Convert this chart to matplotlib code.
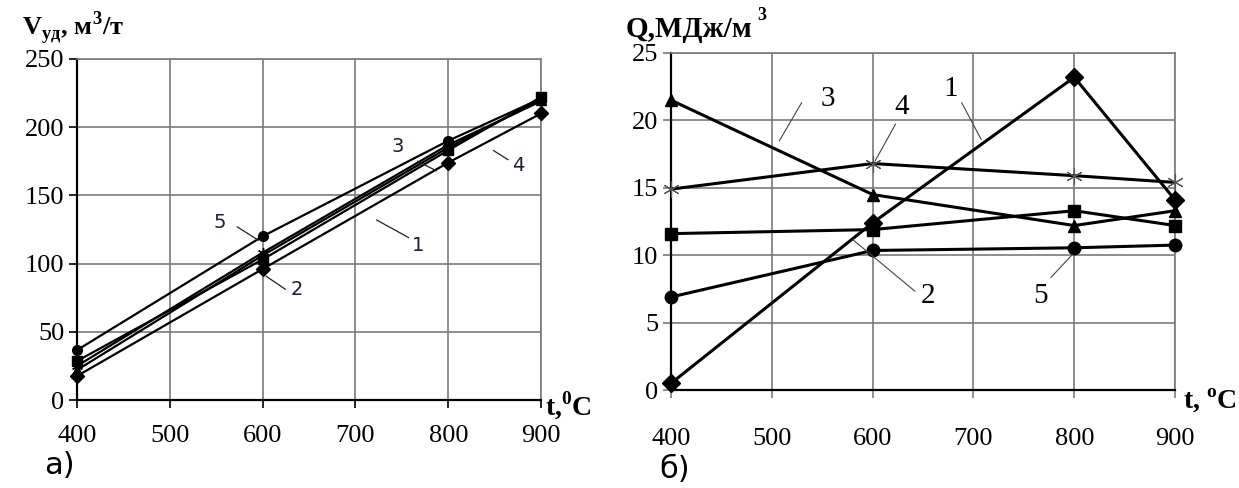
import matplotlib
matplotlib.use("Agg")

import matplotlib.pyplot as plt

# =========================
# DATA
# =========================

temps = [400, 600, 800, 900]

# а) specific gas yield, m3/t
v_1 = [17.6, 96, 174, 210]
v_2 = [28.6, 103, 183, 222]
v_3 = [22, 106, 185, 220]
v_4 = [25, 108, 187, 219]
v_5 = [36.6, 120, 190, 221]

# б) heating value, MJ/m3
q_1 = [0.5, 12.4, 23.2, 14.1]
q_2 = [11.6, 11.9, 13.3, 12.2]
q_3 = [21.5, 14.5, 12.2, 13.3]
q_4 = [14.9, 16.8, 15.9, 15.4]
q_5 = [6.9, 10.35, 10.55, 10.75]

x_ticks = [400, 500, 600, 700, 800, 900]
v_ticks = [0, 50, 100, 150, 200, 250]
q_ticks = [0, 5, 10, 15, 20, 25]

series_labels = ["1", "2", "3", "4", "5"]

# =========================
# STYLE
# =========================

plt.rcParams["font.family"] = ["Liberation Serif", "DejaVu Serif"]
plt.rcParams["mathtext.fontset"] = "custom"
plt.rcParams["mathtext.rm"] = "Liberation Serif"
plt.rcParams["mathtext.bf"] = "Liberation Serif:bold"

markers = ["D", "s", "^", (6, 2, 0), "o"]
grid_color = "#7a7a7a"

fig = plt.figure(figsize=(12.39, 4.88), dpi=100)

ax_v = fig.add_axes([0.0622, 0.1803, 0.3745, 0.699])
ax_q = fig.add_axes([0.5416, 0.2008, 0.4068, 0.6906])


def style_axes(ax, y_ticks, x_pad, tick_color):
    ax.set_xlim(400, 900)
    ax.set_ylim(y_ticks[0], y_ticks[-1])
    ax.set_xticks(x_ticks)
    ax.set_yticks(y_ticks)
    ax.grid(True, color=grid_color, lw=1.2)
    ax.set_axisbelow(True)
    for side in ["top", "right"]:
        ax.spines[side].set_color(grid_color)
        ax.spines[side].set_linewidth(1.2)
    for side in ["left", "bottom"]:
        ax.spines[side].set_color("black")
        ax.spines[side].set_linewidth(1.6)
    ax.tick_params(axis="x", length=6, width=1.2, color=tick_color,
                   pad=x_pad, labelsize=19)
    ax.tick_params(axis="y", length=6, width=1.2, color=tick_color,
                   pad=3, labelsize=19)


# =========================
# LEFT PANEL
# =========================

v_series = [v_1, v_2, v_3, v_4, v_5]

for vals, m in zip(v_series, markers):
    ax_v.plot(temps, vals, color="black", lw=1.6, marker=m,
              markersize=7 if m != (6, 2, 0) else 8,
              markeredgewidth=1.0, clip_on=False, zorder=3)

style_axes(ax_v, v_ticks, 12, "black")

# label text position, leader start, leader end
v_notes = [
    ((767, 113), (760, 118), (720, 133)),
    ((637, 81), (627, 80), (601, 92)),
    ((745, 186), (764, 176), (790, 167)),
    ((875, 172), (867, 175), (846, 184)),
    ((554, 130), (570, 128), (598, 116)),
]

for lab, (txt, p0, p1) in zip(series_labels, v_notes):
    ax_v.annotate("", xy=p1, xytext=p0,
                  arrowprops=dict(arrowstyle="-", lw=0.9, color="#222222"))
    ax_v.text(txt[0], txt[1], lab, fontsize=14, family="DejaVu Sans",
              color="#1c1c3a", ha="center", va="center")

# =========================
# RIGHT PANEL
# =========================

q_series = [q_1, q_2, q_3, q_4, q_5]

for vals, m in zip(q_series, markers):
    if m == (6, 2, 0):
        ax_q.plot(temps, vals, color="black", lw=2.2, zorder=3,
                  clip_on=False)
        ax_q.plot(temps, vals, ls="none", marker=m, markersize=12,
                  markeredgewidth=0.8, color="#555555", zorder=4,
                  clip_on=False)
    else:
        ax_q.plot(temps, vals, color="black", lw=2.2, marker=m,
                  markersize=9, clip_on=False, zorder=3)

style_axes(ax_q, q_ticks, 21, grid_color)

q_notes = [
    ((677, 22.3), (687, 21.5), (709, 18.4)),
    ((655, 7.0), (644, 7.2), (578, 11.3)),
    ((556, 21.6), (531, 21.5), (506, 18.3)),
    ((629, 21.0), (624, 19.9), (601, 16.8)),
    ((767, 7.0), (775, 8.2), (800, 10.2)),
]

for lab, (txt, p0, p1) in zip(series_labels, q_notes):
    ax_q.annotate("", xy=p1, xytext=p0,
                  arrowprops=dict(arrowstyle="-", lw=0.8, color="#444444"))
    ax_q.text(txt[0], txt[1], lab, fontsize=21, color="black",
              ha="center", va="center")

# =========================
# AXIS TITLES
# =========================

fig.text(0.018, 0.928, r"$\mathbf{V}_{\mathbf{уд}}$, м$^{\mathbf{3}}$/т",
         fontsize=19, fontweight="bold", ha="left", va="baseline")
fig.text(0.440, 0.150, r"t,$^{\mathbf{0}}$C",
         fontsize=20, fontweight="bold", ha="left", va="baseline")
fig.text(0.036, 0.028, "а)", fontsize=22, family="DejaVu Sans",
         ha="left", va="baseline")

fig.text(0.505, 0.925, "Q,МДж/м", fontsize=21, fontweight="bold",
         ha="left", va="baseline")
fig.text(0.6115, 0.958, "3", fontsize=13, fontweight="bold",
         ha="left", va="baseline")
fig.text(0.955, 0.165, r"t, $^{\mathbf{o}}$C",
         fontsize=20, fontweight="bold", ha="left", va="baseline")
fig.text(0.532, 0.020, "б)", fontsize=22, family="DejaVu Sans",
         ha="left", va="baseline")

fig.savefig("out.png", dpi=100, facecolor="white")
plt.close(fig)
